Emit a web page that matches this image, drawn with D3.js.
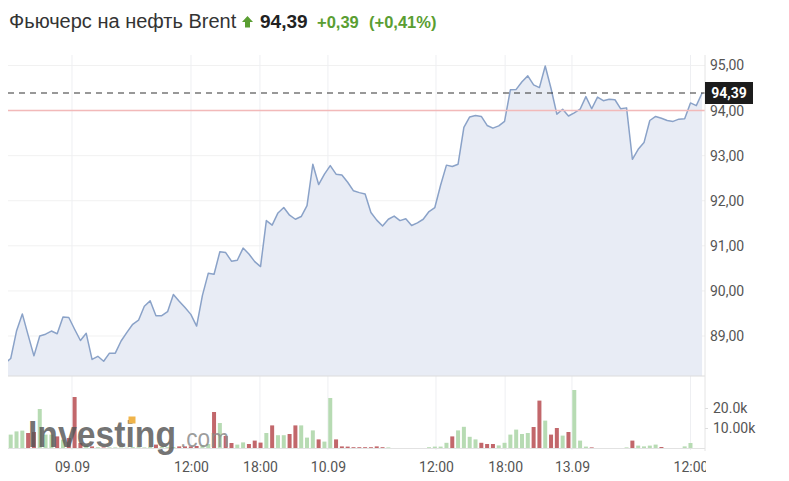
<!DOCTYPE html>
<html><head><meta charset="utf-8">
<script src="https://cdn.jsdelivr.net/npm/d3@7"></script>
<style>body{margin:0;background:#fff}svg{display:block}</style>
</head><body>
<svg id="c" width="789" height="481"></svg>
<script>
// ---- data ----
const title = "Фьючерс на нефть Brent";
const lastPriceText = "94,39";
const changeText = "+0,39";
const changePctText = "(+0,41%)";
const lastPrice = 94.39;
const prevClose = 94.00;

// price per 30-min bar (first value lies just left of the visible window)
const prices = [
  88.39,
  88.50, 89.11, 89.49, 89.02, 88.56, 89.00, 89.04, 89.11, 89.05, 89.42,
  89.41, 89.15, 88.90, 89.06, 88.48, 88.55, 88.44, 88.62, 88.62, 88.89,
  89.08, 89.26, 89.35, 89.66, 89.78, 89.45, 89.45, 89.54, 89.92, 89.77,
  89.63, 89.48, 89.22, 89.90, 90.39, 90.37, 90.87, 90.85, 90.66, 90.68,
  90.95, 90.82, 90.65, 90.54, 91.56, 91.46, 91.73, 91.85, 91.68, 91.59,
  91.65, 91.89, 92.81, 92.36, 92.59, 92.78, 92.59, 92.57, 92.41, 92.22,
  92.18, 92.15, 91.74, 91.57, 91.44, 91.59, 91.66, 91.56, 91.60, 91.45,
  91.51, 91.59, 91.76, 91.85, 92.35, 92.79, 92.76, 92.81, 93.63, 93.86,
  93.89, 93.87, 93.67, 93.61, 93.66, 93.76, 94.46, 94.47, 94.64, 94.77,
  94.57, 94.51, 94.99, 94.49, 93.92, 94.03, 93.88, 93.95, 94.03, 94.31,
  94.04, 94.30, 94.22, 94.25, 94.24, 94.04, 94.06, 92.92, 93.14, 93.29,
  93.78, 93.87, 93.83, 93.78, 93.76, 93.81, 93.82, 94.17, 94.11, 94.39
];

// volume per bar, thousands
const volumes = [
  0,
  6.7, 8.3, 8.7, 7.5, 8.0, 19.5, 6.7, 6.7, 5.8, 4.2,
  5.0, 25.5, 2.5, 1.2, 0.8, 0.4, 0.3, 0.3, 0.3, 0.3,
  0.2, 0.5, 0.4, 0.3, 0.5, 1.7, 0.5, 0.4, 0.5, 0.8,
  0.8, 0.8, 1.0, 1.5, 2.0, 18.0, 12.5, 6.0, 2.5, 1.7,
  2.8, 2.0, 3.7, 2.7, 7.5, 11.3, 6.4, 6.4, 7.0, 11.3,
  11.3, 5.2, 8.8, 4.3, 3.2, 25.0, 4.3, 0.8, 0.7, 0.4,
  0.4, 0.4, 0.4, 0.8, 0.4, 0.3, 0, 0, 0, 0,
  0, 0, 0.4, 0.7, 0.7, 2.6, 5.8, 8.8, 10.6, 5.6,
  4.3, 2.6, 2.0, 2.0, 1.3, 2.6, 6.7, 9.2, 7.0, 7.5,
  10.5, 23.7, 13.7, 6.7, 10.0, 6.2, 8.0, 29.0, 3.7, 0.7,
  0.3, 0, 0, 0, 0, 0, 0.3, 3.7, 1.2, 0.8,
  1.2, 1.7, 0.5, 0, 0, 0, 0.8, 2.5, 0, 0
];

const timeTickLabels = ["09.09", "12:00", "18:00", "10.09", "12:00", "18:00", "13.09", "12:00"];
const timeTickIndex = [11.55, 32.03, 43.9, 55.6, 74.2, 86.1, 97.6, 118.0];
const priceTicks = [89, 90, 91, 92, 93, 94, 95];
const volumeTicks = [10, 20];
const volumeTickLabels = ["10.00k", "20.0k"];

// ---- drawing ----
const svg = d3.select("#c");
const L = 8, R = 705, priceTop = 55, priceBottom = 376, volBase = 448;

const x = d3.scaleLinear().domain([0, prices.length - 1]).range([4.89, 702.1]);
const y = d3.scaleLinear().domain([88.113, 95]).range([priceBottom, 65.5]);
const yv = d3.scaleLinear().domain([0, 20]).range([volBase, 408]);

const defs = svg.append("defs");
defs.append("clipPath").attr("id", "plotClip").append("rect")
  .attr("x", L).attr("y", 40).attr("width", R - L).attr("height", 420);
defs.append("clipPath").attr("id", "axisClip").append("rect")
  .attr("x", 0).attr("y", 440).attr("width", 706).attr("height", 41);

const fmtPrice = d => d3.format(".2f")(d).replace(".", ",");

// grid lines
const grid = svg.append("g");
grid.selectAll("line.h").data(priceTicks).join("line")
  .attr("x1", L).attr("x2", R).attr("y1", d => y(d)).attr("y2", d => y(d))
  .attr("stroke", "#f1f1f1").attr("stroke-width", 1);
grid.selectAll("line.v").data(timeTickIndex).join("line")
  .attr("x1", d => x(d)).attr("x2", d => x(d)).attr("y1", priceTop).attr("y2", 450)
  .attr("stroke", "#eeeff2").attr("stroke-width", 1);

const plot = svg.append("g").attr("clip-path", "url(#plotClip)");

// area + line
plot.append("path").datum(prices)
  .attr("d", d3.area().x((d, i) => x(i)).y0(priceBottom).y1(d => y(d)))
  .attr("fill", "#e8ecf5");
plot.append("path").datum(prices)
  .attr("d", d3.line().x((d, i) => x(i)).y(d => y(d)))
  .attr("fill", "none").attr("stroke", "#8aa2c8").attr("stroke-width", 1.5)
  .attr("stroke-linejoin", "round");

// previous close + last price lines
plot.append("line").attr("x1", L).attr("x2", R).attr("y1", y(prevClose)).attr("y2", y(prevClose))
  .attr("stroke", "#f2b9b9").attr("stroke-width", 1.5);
plot.append("line").attr("x1", L).attr("x2", R).attr("y1", y(lastPrice)).attr("y2", y(lastPrice))
  .attr("stroke", "#333").attr("stroke-width", 1.2).attr("stroke-dasharray", "6,5");

// volume bars
plot.selectAll("rect.vol").data(volumes).join("rect")
  .attr("x", (d, i) => x(i) - 2).attr("width", 4)
  .attr("y", d => yv(d)).attr("height", d => volBase - yv(d))
  .attr("fill", (d, i) => (i > 0 && prices[i] < prices[i - 1]) ? "#c2676b" : "#b7dbb3");

// panel borders
svg.append("line").attr("x1", L).attr("x2", R).attr("y1", priceBottom).attr("y2", priceBottom)
  .attr("stroke", "#dcdcdc");
svg.append("line").attr("x1", L).attr("x2", R).attr("y1", volBase + 0.5).attr("y2", volBase + 0.5)
  .attr("stroke", "#e2e2e2");
svg.append("line").attr("x1", R).attr("x2", R).attr("y1", priceTop).attr("y2", 451)
  .attr("stroke", "#e4e4e4");

// watermark (single text element with two parts)
const wm = svg.append("g");
const wmText = wm.append("text").attr("x", 28).attr("y", 447)
  .attr("font-family", "Liberation Sans, Arial, sans-serif");
wmText.append("tspan").text("Investing")
  .attr("font-weight", "bold").attr("font-size", 37)
  .attr("textLength", 148).attr("lengthAdjust", "spacingAndGlyphs")
  .attr("fill", "#555").attr("fill-opacity", 0.82);
wmText.append("tspan").text(".com").attr("dx", 4)
  .attr("font-size", 26).attr("textLength", 49).attr("lengthAdjust", "spacingAndGlyphs")
  .attr("fill", "#8c8c8c").attr("fill-opacity", 0.85);
wm.append("rect").attr("x", 128.5).attr("y", 416.5).attr("width", 7).attr("height", 7)
  .attr("fill", "#f0b44a");

// axes
const axisFont = "Roboto, 'Noto Sans', sans-serif";
const pAxis = svg.append("g").attr("transform", `translate(${R},0)`)
  .call(d3.axisRight(y).tickValues(priceTicks).tickFormat(fmtPrice).tickSize(0).tickPadding(5));
const vAxis = svg.append("g").attr("transform", `translate(${R},0)`)
  .call(d3.axisRight(yv).tickValues(volumeTicks).tickFormat((d, i) => volumeTickLabels[i]).tickSize(3).tickPadding(5));
const xAxis = svg.append("g").attr("clip-path", "url(#axisClip)")
  .append("g").attr("transform", "translate(0,462)")
  .call(d3.axisBottom(x).tickValues(timeTickIndex).tickFormat((d, i) => timeTickLabels[i]).tickSize(0).tickPadding(0));
[pAxis, vAxis, xAxis].forEach(g => {
  g.select(".domain").remove();
  g.selectAll("text").attr("font-family", axisFont).attr("font-size", 14).attr("fill", "#555");
  g.selectAll(".tick line").attr("stroke", "#ddd");
});

// last price label
const lp = svg.append("g").attr("transform", `translate(${R},${y(lastPrice)})`);
lp.append("rect").attr("x", 0).attr("y", -11).attr("width", 48).attr("height", 22).attr("fill", "#1c1c1c");
lp.append("text").attr("x", 24).attr("y", 0).attr("dy", "0.35em").attr("text-anchor", "middle")
  .attr("font-family", axisFont).attr("font-weight", "bold").attr("font-size", 14)
  .attr("fill", "#fff").text(lastPriceText);

// header
const hdrFont = "Liberation Sans, Arial, sans-serif";
svg.append("text").attr("x", 9).attr("y", 28).text(title)
  .attr("font-family", hdrFont).attr("font-size", 20).attr("fill", "#333");
svg.append("path").attr("d", "M247.5,16 L253,22 L250,22 L250,27.5 L245,27.5 L245,22 L242,22 Z")
  .attr("fill", "#5a9e32");
svg.append("text").attr("x", 260).attr("y", 28).text(lastPriceText)
  .attr("font-family", hdrFont).attr("font-weight", "bold").attr("font-size", 19).attr("fill", "#222");
svg.append("text").attr("x", 317).attr("y", 28).text(changeText)
  .attr("font-family", hdrFont).attr("font-weight", "bold").attr("font-size", 16.5).attr("fill", "#5a9e32");
svg.append("text").attr("x", 369).attr("y", 28).text(changePctText)
  .attr("font-family", hdrFont).attr("font-weight", "bold").attr("font-size", 16.5).attr("fill", "#5a9e32");
</script>
</body></html>
